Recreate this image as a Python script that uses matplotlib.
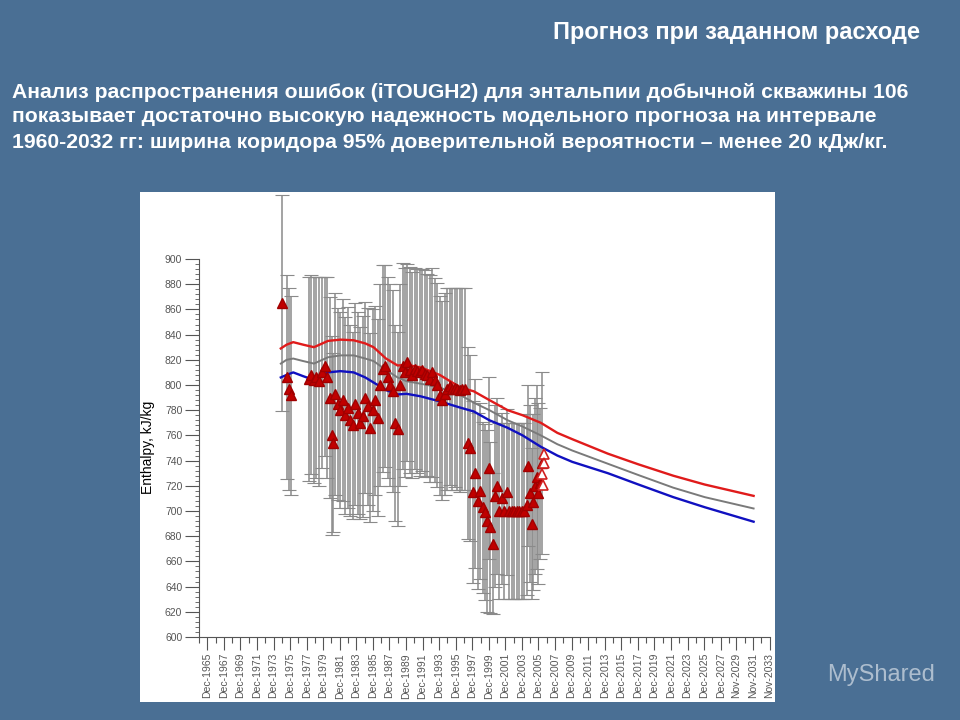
import matplotlib
matplotlib.use('Agg')
import matplotlib.pyplot as plt
from matplotlib.patches import Rectangle
from matplotlib.ticker import FixedLocator

plt.rcParams['font.family'] = ['Liberation Sans', 'DejaVu Sans']

# --- текст слайда ---
title = 'Прогноз при заданном расходе'
body = ['Анализ распространения ошибок (iTOUGH2) для энтальпии добычной скважины 106',
        'показывает достаточно высокую надежность модельного прогноза на интервале',
        '1960-2032 гг: ширина коридора 95% доверительной вероятности – менее 20 кДж/кг.']

# --- наблюдения: время (годы), энтальпия, полуширина погрешности ---
obs_year = [1974.9,
            1975.6, 1975.8, 1976.0,
            1978.2, 1978.5, 1978.8, 1979.1, 1979.4, 1979.8, 1980.1, 1980.4,
            1980.7, 1980.95, 1981.1,
            1981.4, 1981.7, 1982.0, 1982.3, 1982.6, 1982.9, 1983.2, 1983.5, 1983.8,
            1984.1, 1984.4, 1984.7, 1985.0, 1985.3, 1985.6, 1985.9, 1986.2, 1986.5,
            1986.8, 1987.1, 1987.4, 1987.7, 1988.0, 1988.3, 1988.6, 1988.9,
            1989.2, 1989.5, 1989.8, 1990.1, 1990.4, 1990.7, 1991.0, 1991.3, 1991.6,
            1991.9, 1992.2, 1992.5, 1992.8,
            1993.1, 1993.4, 1993.7, 1994.0, 1994.3, 1994.6,
            1994.9, 1995.2, 1995.5, 1995.8, 1996.1, 1996.4, 1996.7, 1997.0,
            1997.4, 1997.6,
            1998.0, 1998.3, 1998.6, 1998.9, 1999.2, 1999.5, 1999.7, 1999.9, 2000.1,
            2000.4, 2000.7, 2000.95,
            2001.2, 2001.5, 2001.8, 2002.1, 2002.4, 2002.7, 2003.0, 2003.3, 2003.6,
            2003.9, 2004.2,
            2004.5, 2004.7, 2004.9, 2005.1, 2005.3, 2005.5, 2005.7, 2005.9, 2006.1, 2006.3]
obs_val = [865,
           806, 797, 792,
           805, 808, 804, 806, 803, 810, 815, 806,
           790, 760, 754,
           793, 785, 780, 788, 776, 782, 772, 768, 785,
           778, 770, 775, 790, 783, 766, 780, 788, 774,
           800, 813, 815, 806, 800, 795, 770, 765,
           800, 815, 810, 818, 812, 808, 813, 811, 810,
           812, 809, 808, 805,
           810, 804, 800, 792, 788, 793,
           797, 799, 797, 798, 797, 796, 797, 797,
           754, 750,
           715, 730, 708, 716, 703, 699, 692, 734, 687,
           674, 712, 720,
           700, 710, 700, 715, 700, 700, 700, 700, 700,
           700, 700,
           705, 736, 714, 690, 707, 720, 727, 714, 722, 738]
obs_err = [86,
           81, 80, 79,
           81, 79, 82, 80, 83, 76, 71, 80,
           80, 79, 71,
           80, 76, 78, 80, 78, 80, 76, 74, 80,
           80, 76, 80, 76, 78, 75, 80, 75, 78,
           80, 82, 80, 80, 80, 80, 78, 77,
           80, 82, 83, 78, 82, 82, 80, 81, 82,
           80, 82, 80, 82,
           83, 81, 81, 79, 79, 80,
           80, 78, 80, 79, 80, 81, 80, 80,
           76, 74,
           72, 75, 70, 70, 68, 70, 72, 72, 68,
           56, 72, 70,
           70, 68, 70, 66, 70, 70, 70, 70, 70,
           70, 70,
           72, 64, 70, 60, 70, 70, 73, 72, 60, 72]

# точки без погрешностей (контурные треугольники)
extra_year = [2006.6, 2006.6, 2006.4, 2006.5]
extra_val = [745, 738, 729, 721]

# --- модельные кривые ---
model_year = [1974.8, 1975.5, 1976.3, 1977.5, 1978.8, 1980.5, 1982.0, 1983.6, 1985.0,
              1986.0, 1987.5, 1988.9, 1990.0, 1991.7, 1994.0, 1996.5, 1998.1, 2000.0,
              2002.2, 2004.0, 2006.2, 2008.2, 2010.0, 2014.3, 2018.0, 2022.2, 2026.0, 2031.9]
model_upper = [829, 832, 834, 832, 830, 835, 836, 835.5, 833,
               830, 821, 815.5, 816, 814, 808, 798, 795, 788,
               780, 776, 770, 762, 757, 745.5, 737, 728, 721, 712]
model_mid = [817, 820, 821, 819, 817, 822, 823.5, 823.5, 821,
             819, 812, 806, 803, 801, 798, 792, 786, 780,
             772, 767, 760, 753, 748, 737.5, 728.5, 718.5, 711, 702]
model_lower = [806, 808, 810, 807, 804, 810, 811, 810, 806,
               802, 796, 792.5, 793, 791, 787, 782, 779, 772,
               766, 760, 751, 744, 739, 730, 721, 711, 703, 691.5]

# --- подписи осей ---
y_ticks = list(range(600, 901, 20))
x_labels = ['Dec-%d' % y for y in range(1965, 2028, 2)] + ['Nov-2029', 'Nov-2031', 'Nov-2033']
x_label_pos = [y + 0.92 for y in range(1965, 2028, 2)] + [2029.83, 2031.83, 2033.83]

bg = '#4a6f94'
fig = plt.figure(figsize=(9.6, 7.2), dpi=100, facecolor=bg)

fig.patches.append(Rectangle((140/960, 18/720), 635/960, 510/720,
                             transform=fig.transFigure, facecolor='white',
                             edgecolor='none', zorder=-5))

fig.text(920/960, 1 - 33/720, title, ha='right', va='center', color='white',
         fontsize=17, fontweight='bold')
for i, line in enumerate(body):
    fig.text(12/960, 1 - (92 + 25*i)/720, line, ha='left', va='center',
             color='white', fontsize=15.2, fontweight='bold')

ax = fig.add_axes([199/960, 83/720, 576/960, 445/720])
ax.set_zorder(2)
ax.patch.set_visible(False)

eb = ax.errorbar(obs_year, obs_val, yerr=obs_err, fmt='none', ecolor='#8a8a8a',
                 elinewidth=1.1, capsize=5, capthick=0.8, zorder=1)
for cl in eb[1]:
    cl.set_color('#555555')

ax.plot(model_year, model_upper, color='#e01b1b', lw=1.7, zorder=2)
ax.plot(model_year, model_mid, color='#7a7a7a', lw=1.4, zorder=2)
ax.plot(model_year, model_lower, color='#1010c0', lw=1.7, zorder=2)

ax.plot(obs_year, obs_val, '^', color='#c00000', mec='#a00000', ms=7, zorder=3)
ax.plot(extra_year, extra_val, '^', mfc='white', mec='#d02020', mew=1.2, ms=7, zorder=3)

ax.set_xlim(1964.92, 1964.92 + 576/8.28)
ax.set_ylim(600, 600 + 445/1.26)

for s in ['top', 'right']:
    ax.spines[s].set_visible(False)
ax.spines['left'].set_bounds(600, 900)
ax.spines['bottom'].set_bounds(1964.92, 2033.83)
for s in ['left', 'bottom']:
    ax.spines[s].set_color('#555555')
    ax.spines[s].set_linewidth(0.8)

ax.yaxis.set_major_locator(FixedLocator(y_ticks))
ax.yaxis.set_minor_locator(FixedLocator(range(600, 901, 4)))
ax.tick_params(axis='y', which='major', length=10, width=0.8, color='#555555',
               labelsize=7.5, labelcolor='#555555', pad=2)
ax.tick_params(axis='y', which='minor', length=3, width=0.6, color='#555555')

minor_pos = [1964.92] + [(a + b) / 2 for a, b in zip(x_label_pos[:-1], x_label_pos[1:])]
ax.xaxis.set_major_locator(FixedLocator(x_label_pos))
ax.xaxis.set_minor_locator(FixedLocator(minor_pos))
ax.set_xticklabels(x_labels, rotation=90)
ax.tick_params(axis='x', which='major', length=9.5, width=0.8, color='#555555',
               labelsize=7.5, labelcolor='#555555', pad=2)
ax.tick_params(axis='x', which='minor', length=4.5, width=0.8, color='#555555')

fig.text(148/960, 1 - 447/720, 'Enthalpy, kJ/kg', rotation=90, ha='center',
         va='center', fontsize=10, color='black')

fig.text(935/960, 1 - 675/720, 'MyShared', ha='right', va='center', color='white',
         alpha=0.55, fontsize=17)

fig.savefig('out.png', dpi=100, facecolor=bg)
